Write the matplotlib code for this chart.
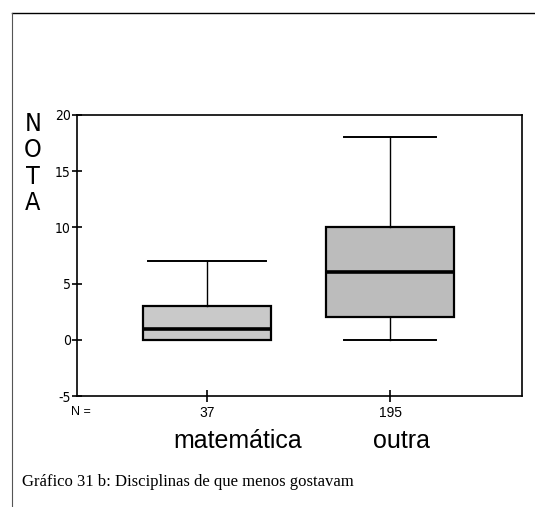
import matplotlib.pyplot as plt
from matplotlib.lines import Line2D
from matplotlib import transforms
from matplotlib import font_manager

categories = ["matemática", "outra"]
counts = [37, 195]
medians = [1, 6]
q1 = [0, 2]
q3 = [3, 10]
whisker_low = [0, 0]
whisker_high = [7, 18]
yticks = [-5, 0, 5, 10, 15, 20]

narrow = font_manager.FontProperties(family="DejaVu Sans", stretch="condensed",
                                     size=10)

fig = plt.figure(figsize=(5.35, 5.07), dpi=100)
ax = fig.add_axes([0.1439, 0.2189, 0.8318, 0.5543])

stats = []
for i, name in enumerate(categories):
    stats.append(dict(med=medians[i], q1=q1[i], q3=q3[i],
                      whislo=whisker_low[i], whishi=whisker_high[i],
                      fliers=[], label=name))

positions = [1, 2]
bp = ax.bxp(stats, positions=positions, widths=0.7, patch_artist=True,
            showfliers=False,
            boxprops=dict(facecolor="#c9c9c9", edgecolor="black", linewidth=1.6),
            medianprops=dict(color="black", linewidth=2.6),
            whiskerprops=dict(color="black", linewidth=1.0),
            capprops=dict(color="black", linewidth=1.4),
            capwidths=[0.64, 0.5])
bp["boxes"][1].set_facecolor("#bcbcbc")

ax.set_xlim(0.29, 2.72)
ax.set_ylim(-5, 20)
ax.set_yticks(yticks)
ax.set_yticklabels([str(v) for v in yticks], fontproperties=narrow)
ax.set_xticks(positions)
ax.set_xticklabels([str(c) for c in counts], family="Liberation Sans",
                   fontsize=10)
ax.tick_params(axis="y", direction="inout", length=7, width=1.2, pad=1)
ax.tick_params(axis="x", direction="inout", length=8, width=1.2, pad=3)
for s in ax.spines.values():
    s.set_linewidth(1.2)

# category names and N label under the axis
to_axes_y = transforms.blended_transform_factory(fig.transFigure, ax.transAxes)
label_x = [238 / 535, 402 / 535]
for x, name in zip(label_x, categories):
    ax.text(x, -0.16, name, transform=to_axes_y, ha="center", va="center",
            family="Liberation Sans", fontsize=18)
fig.text(81 / 535, 1 - 412 / 507, "N =", ha="center", va="center",
         family="Liberation Sans", fontsize=9)

# vertical axis title, one letter per line
for k, ch in enumerate("NOTA"):
    fig.text(33 / 535, 1 - (124 + k * 26.3) / 507, ch, ha="center",
             va="center", family="DejaVu Sans", stretch="condensed",
             fontsize=18)

fig.text(22 / 535, 1 - 482 / 507,
         "Gráfico 31 b: Disciplinas de que menos gostavam",
         family="Liberation Serif", fontsize=12, ha="left", va="center")

# page frame
fig.add_artist(Line2D([12 / 535, 1], [1 - 13 / 507, 1 - 13 / 507],
                      color="black", linewidth=1.0))
fig.add_artist(Line2D([12 / 535, 12 / 535], [0, 1 - 13 / 507],
                      color="#555555", linewidth=0.8))

fig.savefig("out.png", dpi=100)
